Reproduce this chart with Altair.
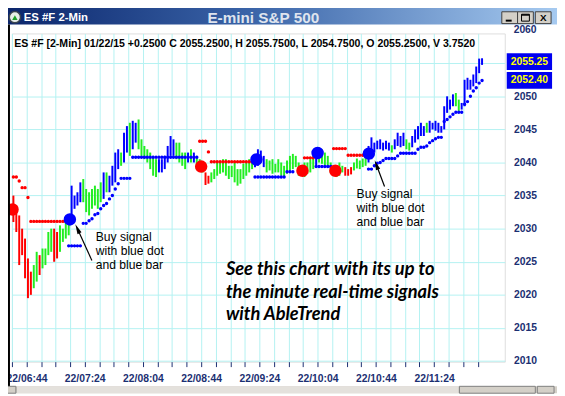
import altair as alt
import pandas as pd

# ---------------- data ----------------
# one entry per 2-minute bar, first bar 22/06:34
BAR_TREND = (
    "RRRRRRRGGRGGGGRRGGGG"
    "BBBBGGGGGGGBGBBBBGBB"
    "GBBGGGGGGGBBBBBBGGGG"
    "BGBGGGRRGGGGGGGGGGGG"
    "GGGBBBBGGGGGGGGGGGGG"
    "GGGGBGGGGGGGGGRRRGGG"
    "GGBBBBBBBBGBBBBGGBBB"
    "BBGBBBBBBBBBGGBBBBBB"
    "BB"
)
BAR_HIGH = [
    2035.0, 2033.5, 2032.0, 2030.0, 2028.5, 2025.5, 2023.5, 2024.5, 2026.5, 2026.0,
    2027.0, 2027.0, 2029.5, 2030.0, 2030.0, 2029.5, 2030.5, 2030.0, 2031.0, 2031.5,
    2036.5, 2035.0, 2035.5, 2037.0, 2037.5, 2036.0, 2035.5, 2036.0, 2036.5, 2036.0,
    2037.0, 2038.5, 2038.5, 2038.0, 2039.5, 2041.5, 2042.0, 2041.5, 2044.5, 2045.5,
    2046.0, 2046.3, 2046.0, 2046.5, 2043.5, 2042.5, 2042.0, 2041.5, 2041.0, 2040.5,
    2040.5, 2040.5, 2041.0, 2042.5, 2044.0, 2043.5, 2043.0, 2043.0, 2041.5, 2041.5,
    2041.5, 2042.0, 2041.5, 2041.0, 2040.5, 2040.0, 2038.5, 2038.0, 2038.5, 2039.0,
    2040.0, 2040.0, 2040.5, 2040.5, 2039.5, 2039.5, 2040.0, 2039.0, 2039.0, 2039.8,
    2040.0, 2040.5, 2040.5, 2041.0, 2042.0, 2041.8, 2041.0, 2040.5, 2040.3, 2040.5,
    2039.8, 2040.5, 2040.0, 2039.5, 2040.3, 2041.0, 2041.3, 2041.0, 2040.0, 2039.5,
    2040.0, 2040.0, 2040.5, 2041.0, 2041.5, 2042.3, 2042.0, 2041.5, 2041.0, 2040.0,
    2039.5, 2039.5, 2040.0, 2039.5, 2039.3, 2039.0, 2039.3, 2040.0, 2040.6, 2040.3,
    2040.6, 2041.0, 2042.5, 2043.8, 2043.0, 2043.3, 2043.5, 2043.0, 2043.3, 2043.0,
    2042.6, 2043.5, 2044.5, 2044.0, 2044.5, 2043.5, 2043.0, 2044.0, 2045.0, 2045.5,
    2046.0, 2045.5, 2046.0, 2046.3, 2046.0, 2046.3, 2046.0, 2045.5, 2048.5, 2050.0,
    2049.5, 2050.3, 2050.5, 2049.5, 2049.0, 2052.5, 2052.8, 2052.5, 2053.3, 2054.5,
    2055.7, 2055.75,
]
BAR_LOW = [
    2031.0, 2029.5, 2024.5, 2026.0, 2022.5, 2019.5, 2020.0, 2021.0, 2022.0, 2023.0,
    2024.0, 2024.5, 2026.0, 2026.5, 2025.0, 2025.5, 2026.5, 2028.0, 2028.5, 2029.0,
    2031.0, 2033.0, 2033.5, 2034.0, 2034.0, 2032.5, 2032.0, 2033.0, 2033.5, 2033.0,
    2034.0, 2034.5, 2035.5, 2035.5, 2036.5, 2037.0, 2039.0, 2039.5, 2040.0, 2041.5,
    2041.0, 2042.0, 2043.0, 2042.0, 2041.0, 2040.5, 2040.0, 2039.0, 2038.0, 2037.8,
    2038.5, 2038.5, 2039.0, 2040.0, 2041.0, 2041.0, 2040.5, 2040.0, 2039.5, 2039.0,
    2040.0, 2040.0, 2040.0, 2039.0, 2039.0, 2038.5, 2036.6, 2036.8, 2037.0, 2037.5,
    2038.0, 2038.3, 2038.5, 2038.0, 2037.5, 2037.8, 2037.0, 2036.5, 2036.8, 2037.5,
    2038.0, 2038.5, 2039.0, 2039.3, 2039.5, 2040.0, 2039.3, 2038.5, 2038.8, 2038.3,
    2038.5, 2038.5, 2038.0, 2037.8, 2038.3, 2038.5, 2039.0, 2039.3, 2038.0, 2038.0,
    2037.8, 2038.3, 2038.5, 2039.0, 2039.5, 2040.0, 2039.8, 2039.5, 2039.3, 2038.5,
    2038.3, 2037.8, 2038.0, 2038.5, 2038.0, 2038.0, 2038.2, 2038.8, 2039.1, 2039.0,
    2039.3, 2039.5, 2040.0, 2040.5, 2041.5, 2042.0, 2042.0, 2041.8, 2042.0, 2041.8,
    2041.5, 2042.0, 2042.5, 2042.3, 2042.5, 2042.0, 2041.8, 2042.3, 2043.0, 2043.5,
    2044.0, 2044.0, 2044.5, 2044.5, 2045.0, 2044.8, 2044.5, 2044.5, 2045.0, 2047.5,
    2048.0, 2048.5, 2048.5, 2047.8, 2048.0, 2048.5, 2051.0, 2051.0, 2051.5, 2052.0,
    2053.5, 2054.75,
]
# AbleTrend stop dots (None = no dot)
STOP_VALUE = [
    2037.8, 2037.8, 2037.2, 2036.2, 2036.2, 2034.7, 2031.1, 2031.1, 2031.1, 2031.1,
    2031.1, 2031.1, 2031.1, 2031.1, 2031.1, 2031.1, 2031.1, 2031.1, 2031.1, 2027.4,
    2027.4, 2027.4, 2027.4, 2027.4, 2030.8, 2030.8, 2031.2, 2031.5, 2032.1, 2032.3,
    2033.0, 2033.5, 2033.8, 2034.5, 2035.0, 2036.0, 2036.8, 2037.6, 2037.6, 2037.6,
    2037.6, 2040.8, 2040.8, 2040.8, 2040.8, 2040.8, 2040.8, 2040.8, 2040.8, 2040.8,
    2040.8, 2040.8, 2040.8, 2040.8, 2040.8, 2040.8, 2040.8, 2040.8, 2040.8, 2040.8,
    2040.8, 2040.8, 2040.8, 2040.8, 2043.2, 2043.2, 2043.2, 2041.6, 2040.1, 2040.1,
    2040.1, 2040.1, 2040.1, 2040.1, 2040.1, 2040.1, 2040.1, 2040.1, 2040.1, 2040.1,
    2040.1, 2040.1, 2040.1, 2037.8, 2037.8, 2037.8, 2037.8, 2037.8, 2037.8, 2037.8,
    2037.8, 2037.8, 2037.8, 2037.8, 2038.6, 2038.6, 2038.6, None, None, None,
    2040.7, 2040.7, 2040.7, 2040.7, 2039.4, 2039.4, 2039.4, 2039.4, 2039.4, 2039.4,
    2042.1, 2042.1, 2042.1, 2042.1, 2042.1, 2041.1, 2041.1, 2041.1, 2041.1, 2041.1,
    2041.1, 2041.1, 2039.0, 2039.0, 2039.5, 2039.9, 2040.0, 2040.3, 2040.6, 2040.6,
    2040.6, 2040.6, 2041.0, 2041.4, 2041.4, 2041.4, 2041.4, 2041.4, 2041.4, 2042.0,
    2042.3, 2042.3, 2042.5, 2043.0, 2043.3, 2043.6, 2043.8, 2043.8, 2046.2, 2046.5,
    2046.9, 2047.3, 2047.6, 2047.6, 2047.6, 2048.8, 2049.2, 2050.0, 2050.8, 2051.3,
    2052.0, 2052.4,
]
# (side, first bar, last bar) of the stop-dot runs
STOP_RUNS = [("R", 0, 18), ("B", 19, 63), ("R", 64, 82), ("B", 83, 96),
             ("R", 100, 103), ("B", 104, 109), ("R", 110, 121), ("B", 122, 161)]

# big signal dots
SIGNAL_BAR = [-0.3, 19.4, 64.5, 83.5, 99.3, 104.5, 110.6, 122.1]
SIGNAL_PRICE = [2032.9, 2031.4, 2039.38, 2040.45, 2038.75, 2041.43, 2038.75, 2041.34]
SIGNAL_SIDE = ["R", "B", "R", "B", "R", "B", "R", "B"]

# time axis
TICK_LABEL_BARS = [4.5, 24.5, 44.5, 64.5, 84.5, 104.5, 124.5, 144.5]
TICK_LABELS = ["22/06:44", "22/07:24", "22/08:04", "22/08:44",
               "22/09:24", "22/10:04", "22/10:44", "22/11:24"]
PRICE_TICKS = [2010, 2015, 2020, 2025, 2030, 2035, 2040, 2045, 2050, 2055]

# annotations
NOTE_LINES = ["Buy signal", "with blue dot", "and blue bar"]
NOTE1_BAR, NOTE1_PRICES = 28.3, [2028.73, 2026.6, 2024.47]
NOTE2_BAR, NOTE2_PRICES = 117.9, [2035.24, 2033.11, 2030.98]
ARROW_TAIL_BAR = [26.96, 127.5]
ARROW_TAIL_PRICE = [2025.2, 2036.37]
ARROW_HEAD_BAR = [22.0, 124.7]
ARROW_HEAD_PRICE = [2029.98, 2039.65]
ARROW_ANGLE = [335, 340]
PROMO_LINES = ["See this chart with its up to", "the minute real-time signals", "with AbleTrend"]
PROMO_BAR, PROMO_PRICES = 73.0, [2023.82, 2020.4, 2017.12]

HEADER = "ES #F [2-Min] 01/22/15  +0.2500 C 2055.2500, H 2055.7500, L 2054.7500, O 2055.2500, V 3.7520"
PRICE_TAGS = [2055.25, 2052.40]
PRICE_TAG_TEXT = ["2055.25", "2052.40"]

# ---------------- tables ----------------
n = len(BAR_HIGH)
assert len(BAR_TREND) == n and len(BAR_LOW) == n and len(STOP_VALUE) == n
bars = pd.DataFrame({"bar": list(range(n)), "high": BAR_HIGH, "low": BAR_LOW,
                     "trend": list(BAR_TREND)})
side = [None] * n
for s, a, b in STOP_RUNS:
    for i in range(a, b + 1):
        side[i] = s
stops = pd.DataFrame({"bar": list(range(n)), "stop": STOP_VALUE, "trend": side}).dropna()
signals = pd.DataFrame({"bar": SIGNAL_BAR, "price": SIGNAL_PRICE, "trend": SIGNAL_SIDE})
notes = pd.DataFrame({
    "bar": [NOTE1_BAR] * 3 + [NOTE2_BAR] * 3,
    "price": NOTE1_PRICES + NOTE2_PRICES,
    "text": NOTE_LINES + NOTE_LINES})
arrows = pd.DataFrame({"bar": ARROW_TAIL_BAR, "price": ARROW_TAIL_PRICE,
                       "bar2": ARROW_HEAD_BAR, "price2": ARROW_HEAD_PRICE,
                       "angle": ARROW_ANGLE})
promo = pd.DataFrame({"bar": [PROMO_BAR] * 3, "price": PROMO_PRICES, "text": PROMO_LINES})
tags = pd.DataFrame({"price": PRICE_TAGS, "text": PRICE_TAG_TEXT})
top_label = pd.DataFrame({"price": [2060], "text": ["2060"]})
ONE = pd.DataFrame({"k": [0]})

# ---------------- scales / axes ----------------
NAVY = "#1b2f72"
FONT = "Liberation Sans"
XS = alt.Scale(domain=[-0.5, 168.8], nice=False, zero=False)
YS = alt.Scale(domain=[2009.9, 2059.5], nice=False, zero=False)
CS = alt.Scale(domain=["R", "G", "B"], range=["#ff0000", "#22ee22", "#0000ff"])

label_expr = " : ".join(
    f"datum.value == {b} ? '{t}'" for b, t in zip(TICK_LABEL_BARS, TICK_LABELS)) + " : ''"
x_axis = alt.Axis(values=[-0.5 + 5 * k for k in range(33)], labelExpr=label_expr,
                  grid=True, gridColor="#b4f2f2", domain=False, tickColor=NAVY,
                  tickSize=5, labelFont=FONT, labelFontSize=10.5, labelFontWeight="bold",
                  labelColor=NAVY, labelPadding=7, labelOverlap=False, labelFlush=False,
                  title=None)
# the 2055 label sits under the last-price tag, so it is left blank
y_axis = alt.Axis(orient="right", values=PRICE_TICKS, grid=True, gridColor="#b4f2f2",
                  domain=False, ticks=True, tickSize=0, labelFont=FONT, labelFontSize=10.5,
                  labelFontWeight="bold", labelColor=NAVY, labelPadding=9,
                  labelExpr="datum.value == 2055 ? '' : format(datum.value, 'd')",
                  labelAlign="left", labelBaseline="middle", title=None)

X = lambda f: alt.X(f, type="quantitative", scale=XS, axis=x_axis)
Y = lambda f: alt.Y(f, type="quantitative", scale=YS, axis=y_axis)
C = alt.Color("trend:N", scale=CS, legend=None)

bar_layer = alt.Chart(bars).mark_rule(strokeWidth=2).encode(
    x=X("bar"), y=Y("low"), y2="high:Q", color=C)
stop_layer = alt.Chart(stops).mark_circle(size=12, opacity=1).encode(
    x=X("bar"), y=Y("stop"), color=C)
signal_layer = alt.Chart(signals).mark_circle(size=160, opacity=1).encode(
    x=X("bar"), y=Y("price"), color=C)
note_layer = alt.Chart(notes).mark_text(align="left", baseline="middle", font=FONT,
                                        fontSize=12.3, color="black").encode(
    x=X("bar"), y=Y("price"), text="text:N")
arrow_line = alt.Chart(arrows).mark_rule(color="black", strokeWidth=1.2).encode(
    x=X("bar"), y=Y("price"), x2="bar2:Q", y2="price2:Q")
arrow_head = alt.Chart(arrows).mark_point(shape="M0,-1L0.45,1L-0.45,1Z", filled=True,
                                          size=100, color="black", opacity=1).encode(
    x=X("bar2"), y=Y("price2"), angle=alt.Angle("angle:Q", scale=None))
promo_layer = alt.Chart(promo).mark_text(align="left", baseline="middle", font="Lato",
                                         fontSize=18.5, fontStyle="italic", fontWeight="bold",
                                         color="black").encode(
    x=X("bar"), y=Y("price"), text="text:N")
top_lab = alt.Chart(top_label).mark_text(align="left", baseline="middle", font=FONT,
                                         fontSize=10.5, fontWeight="bold", color=NAVY,
                                         dx=9).encode(
    x=alt.value(500), y=Y("price"), text="text:N")

# page-coordinate helpers for the window chrome (origin = plot corner)
OX, OY = 12, 31


def prect(x1, y1, x2, y2, **mk):
    return alt.Chart(ONE).mark_rect(**mk).encode(
        x=alt.value(x1 - OX), x2=alt.value(x2 - OX),
        y=alt.value(y1 - OY), y2=alt.value(y2 - OY))


def ptext(x, y, text, **mk):
    return alt.Chart(ONE).mark_text(text=text, **mk).encode(
        x=alt.value(x - OX), y=alt.value(y - OY))


tag_rect = alt.Chart(tags).mark_rect(height=17, color="#0000f0").encode(
    x=alt.value(514 - OX), x2=alt.value(560 - OX), y=Y("price"))
tag_text = alt.Chart(tags).mark_text(align="left", baseline="middle", font=FONT,
                                     fontSize=10.5, fontWeight="bold",
                                     color="#ffff00").encode(
    x=alt.value(518 - OX), y=Y("price"), text="text:N")

header = ptext(14.4, 41.4, HEADER, align="left", baseline="middle", font=FONT,
               fontSize=10.7, fontWeight="bold", color="black")

title_grad = alt.LinearGradient(
    gradient="linear", x1=0, x2=1, y1=0, y2=0,
    stops=[alt.GradientStop(color="#0a246a", offset=0),
           alt.GradientStop(color="#3a64a8", offset=0.45),
           alt.GradientStop(color="#a6caf0", offset=1)])
chrome = [
    prect(0, 0, 565, 22, fill=title_grad),
    alt.Chart(ONE).mark_circle(size=130, color="#e8efe8", stroke="#3a4450",
                               strokeWidth=1.5, opacity=1).encode(
        x=alt.value(15 - OX), y=alt.value(14.5 - OY)),
    alt.Chart(ONE).mark_point(shape="triangle-up", filled=True, size=30,
                              color="#1fa02a", opacity=1).encode(
        x=alt.value(15 - OX), y=alt.value(15 - OY)),
    ptext(24, 15, "ES #F 2-Min", align="left", baseline="middle", font=FONT,
          fontSize=11.5, fontWeight="bold", color="white"),
    ptext(267, 15, "E-mini S&P 500", align="center", baseline="middle", font=FONT,
          fontSize=15.5, fontWeight="bold", color="#dfe4ee"),
    prect(509, 9, 525, 21, fill="#d4d0c8", stroke="#404040", strokeWidth=1),
    prect(525, 9, 541, 21, fill="#d4d0c8", stroke="#404040", strokeWidth=1),
    prect(543, 9, 559, 21, fill="#d4d0c8", stroke="#404040", strokeWidth=1),
    prect(513, 17, 519, 19, fill="black"),
    prect(529, 11.5, 537, 18.5, fill="none", stroke="black", strokeWidth=1),
    prect(529, 11.5, 537, 13, fill="black"),
    ptext(551, 15.5, "X", align="center", baseline="middle", font=FONT,
          fontSize=10, fontWeight="bold", color="black"),
    prect(0, 22, 10, 389, fill="black"),
    prect(0, 389, 565, 396, fill="#d4d0c8"),
    prect(17, 389, 465, 396, fill="#e4e1dc"),
    prect(466, 389, 543, 396, fill="#d4d0c8", stroke="#808080", strokeWidth=1),
    prect(0, 389, 16, 396, fill="#d4d0c8", stroke="#808080", strokeWidth=1),
    prect(545, 389, 562, 396, fill="#d4d0c8", stroke="#808080", strokeWidth=1),
]

chart = alt.layer(
    bar_layer, stop_layer, signal_layer, note_layer, arrow_line, arrow_head,
    promo_layer, top_lab, tag_rect, tag_text, header, *chrome
).properties(
    width=500, height=333,
    padding={"left": 4, "top": 23, "right": 53, "bottom": 32},
    autosize=alt.AutoSizeParams(type="none"),
).configure_view(
    stroke="#0a2a6a", strokeWidth=1
).configure(background="white")

chart.save("out.html", embed_options={"renderer": "svg", "actions": False})
